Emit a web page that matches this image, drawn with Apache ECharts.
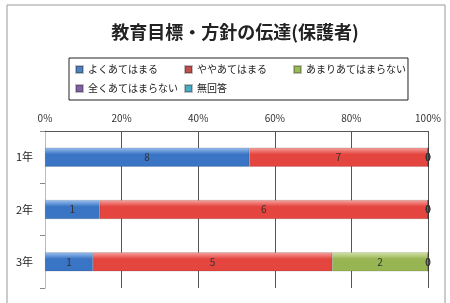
<!DOCTYPE html>
<html><head><meta charset="utf-8">
<script src="https://cdn.jsdelivr.net/npm/echarts@6/dist/echarts.min.js"></script>
<style>html,body{margin:0;padding:0;background:#fff}#c{width:450px;height:303px}</style>
</head><body><div id="c"></div>
<script>
const title = '教育目標・方針の伝達(保護者)';
const categories = ['1年', '2年', '3年'];
const seriesNames = ['よくあてはまる', 'ややあてはまる', 'あまりあてはまらない', '全くあてはまらない', '無回答'];
const s1 = [8, 1, 1];
const s2 = [7, 6, 5];
const s3 = [0, 0, 2];
const s4 = [0, 0, 0];
const s5 = [0, 0, 0];
const tickLabels = ['0%', '20%', '40%', '60%', '80%', '100%'];
const colors = [['#9cc2f0', '#3a74c4'], ['#f7a4a0', '#e4453f'], ['#d6e4a8', '#98b553'], ['#b4a2cf', '#7a5c9f'], ['#9fd8e8', '#3ea6c3']];
const legendColors = ['#4f81bd', '#c0504d', '#9bbb59', '#8064a2', '#4bacc6'];

const all = [s1, s2, s3, s4, s5];
const totals = categories.map((c, i) => all.reduce((a, s) => a + s[i], 0));
const chart = echarts.init(document.getElementById('c'));
const font = '"Noto Sans CJK JP", "Noto Sans", sans-serif';
chart.setOption({
  animation: false,
  textStyle: { fontFamily: font },
  title: { text: title, left: 230, textAlign: 'center', top: 18,
    textStyle: { fontSize: 18, fontWeight: 'bold', color: '#222', fontFamily: font } },
  legend: {
    left: 69, top: 58, width: 350,
    padding: [4, 2, 4, 6],
    borderColor: '#222', borderWidth: 1,
    itemWidth: 7, itemHeight: 7, itemGap: 4,
    icon: 'rect',
    formatter: n => '{a|' + n + '}',
    textStyle: { fontSize: 10, color: '#222', fontFamily: font,
      rich: { a: { width: 92, height: 15, fontSize: 10, lineHeight: 15, color: '#222', fontFamily: font } } },
    data: seriesNames.map((n, i) => ({ name: n, itemStyle: { color: legendColors[i] } }))
  },
  graphic: [{ type: 'rect', shape: { x: 7, y: 5, width: 438, height: 300 }, style: { fill: 'none', stroke: '#999', lineWidth: 1 }, silent: true }],
  grid: { left: 45, right: 22, top: 131, bottom: 15 },
  xAxis: {
    type: 'value', position: 'top', min: 0, max: 100, interval: 20,
    axisLabel: { formatter: v => tickLabels[v / 20], fontSize: 10, color: '#333', margin: 8 },
    splitLine: { lineStyle: { color: '#555', width: 1 } },
    axisLine: { show: true, lineStyle: { color: '#555' } },
    axisTick: { show: false }
  },
  yAxis: {
    type: 'category', data: categories, inverse: true,
    axisLabel: { fontSize: 11, color: '#222', margin: 12 },
    axisLine: { show: true, lineStyle: { color: '#bbb' } },
    axisTick: { show: true, lineStyle: { color: '#888' } }
  },
  series: seriesNames.map((n, k) => ({
    name: n, type: 'bar', stack: 'total', barWidth: 19,
    data: all[k].map((v, i) => ({ value: v / totals[i] * 100, raw: v })),
    itemStyle: { color: new echarts.graphic.LinearGradient(0, 0, 0, 1, [
      { offset: 0, color: colors[k][0] }, { offset: 0.35, color: colors[k][1] }, { offset: 1, color: colors[k][1] }]),
      borderColor: 'rgba(0,0,0,0.25)', borderWidth: 0.5 },
    label: { show: true, position: 'inside', fontSize: 10, color: '#333',
      formatter: p => String(p.data.raw) }
  }))
});
</script></body></html>
